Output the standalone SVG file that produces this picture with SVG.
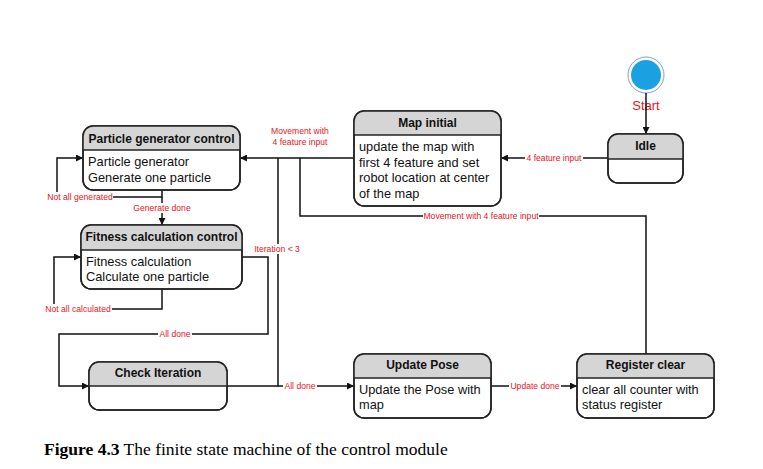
<svg xmlns="http://www.w3.org/2000/svg" width="763" height="469" viewBox="0 0 763 469">
<style>
.box{fill:#fff;stroke:#222;stroke-width:1.5}
.hdr{fill:#d5d5d5;stroke:none}
.div{stroke:#222;stroke-width:1.5}
.ttl{font-family:"Liberation Sans",Arial,sans-serif;font-weight:bold;font-size:12px;fill:#111;text-anchor:middle}
.bdy{font-family:"Liberation Sans",Arial,sans-serif;font-size:12.8px;fill:#111}
.lbl{font-family:"Liberation Sans",Arial,sans-serif;font-size:8.6px;fill:#e8141e;text-anchor:middle}
.ln{fill:none;stroke:#111;stroke-width:1.5}
.bg{fill:#fff}
</style>
<defs>
<marker id="arr" viewBox="0 0 10 10" refX="10" refY="5" markerWidth="7" markerHeight="7" markerUnits="userSpaceOnUse" orient="auto"><path d="M0,0 L10,5 L0,10 z" fill="#111"/></marker>
<clipPath id="c1"><rect x="83" y="126" width="157" height="64" rx="10"/></clipPath>
<clipPath id="c2"><rect x="81" y="225" width="161" height="64" rx="10"/></clipPath>
<clipPath id="c3"><rect x="89" y="362" width="138" height="48" rx="10"/></clipPath>
<clipPath id="c4"><rect x="354" y="354" width="137" height="64" rx="10"/></clipPath>
<clipPath id="c5"><rect x="577" y="354" width="137" height="64" rx="10"/></clipPath>
<clipPath id="c6"><rect x="354" y="111" width="147" height="95" rx="10"/></clipPath>
<clipPath id="c7"><rect x="608" y="134" width="75" height="49" rx="10"/></clipPath>
</defs>

<g id="start">
<circle cx="646" cy="75" r="18" fill="#fff" stroke="#7a9fd6" stroke-width="1"/>
<circle cx="646" cy="75" r="15" fill="#1ba1e2"/>
<text x="646" y="110" font-family="Liberation Sans, Arial, sans-serif" font-size="13" fill="#e8141e" text-anchor="middle">Start</text>
</g>

<g id="connectors">
<line class="ln" x1="646" y1="93" x2="646" y2="134" marker-end="url(#arr)"/>
<line class="ln" x1="608" y1="158" x2="501" y2="158" marker-end="url(#arr)"/>
<line class="ln" x1="354" y1="158" x2="240" y2="158" marker-end="url(#arr)"/>
<polyline class="ln" points="646,354 646,216 300,216 300,158"/>
<polyline class="ln" points="227,386 278,386 278,158"/>
<line class="ln" x1="278" y1="386" x2="354" y2="386" marker-end="url(#arr)"/>
<line class="ln" x1="491" y1="386" x2="577" y2="386" marker-end="url(#arr)"/>
<polyline class="ln" points="162,190 162,197 57,197 57,158 83,158" marker-end="url(#arr)"/>
<line class="ln" x1="162" y1="197" x2="162" y2="225" marker-end="url(#arr)"/>
<polyline class="ln" points="162,289 162,309 54,309 54,257 81,257" marker-end="url(#arr)"/>
<polyline class="ln" points="242,257 268,257 268,334 59,334 59,386 89,386" marker-end="url(#arr)"/>

<rect class="bg" x="47" y="192" width="66" height="10"/>
<text class="lbl" x="80" y="200">Not all generated</text>
<rect class="bg" x="133" y="203" width="58" height="10"/>
<text class="lbl" x="162" y="211">Generate done</text>
<rect class="bg" x="45" y="304" width="67" height="10"/>
<text class="lbl" x="78" y="312">Not all calculated</text>
<rect class="bg" x="158" y="329" width="34" height="10"/>
<text class="lbl" x="175" y="337">All done</text>
<rect class="bg" x="253" y="244" width="48" height="10"/>
<text class="lbl" x="277" y="252">Iteration &lt; 3</text>
<text class="lbl" x="300" y="134">Movement with</text>
<text class="lbl" x="300" y="145">4 feature input</text>
<rect class="bg" x="525" y="153" width="58" height="10"/>
<text class="lbl" x="554" y="161">4 feature input</text>
<rect class="bg" x="423" y="211" width="116" height="10"/>
<text class="lbl" x="481" y="219">Movement with 4 feature input</text>
<rect class="bg" x="283" y="381" width="34" height="10"/>
<text class="lbl" x="300" y="389">All done</text>
<rect class="bg" x="509" y="381" width="52" height="10"/>
<text class="lbl" x="535" y="389">Update done</text>
</g>

<g id="particle-generator-control">
<rect class="box" x="83" y="126" width="157" height="64" rx="10"/>
<rect class="hdr" x="83" y="126" width="157" height="24" clip-path="url(#c1)"/>
<line class="div" x1="83" y1="150" x2="240" y2="150"/>
<rect x="83" y="126" width="157" height="64" rx="10" fill="none" stroke="#222" stroke-width="1.5"/>
<text class="ttl" x="161.5" y="143">Particle generator control</text>
<text class="bdy" x="88" y="166">Particle generator</text>
<text class="bdy" x="88" y="182">Generate one particle</text>
</g>

<g id="fitness-calculation-control">
<rect class="box" x="81" y="225" width="161" height="64" rx="10"/>
<rect class="hdr" x="81" y="225" width="161" height="25" clip-path="url(#c2)"/>
<line class="div" x1="81" y1="250" x2="242" y2="250"/>
<rect x="81" y="225" width="161" height="64" rx="10" fill="none" stroke="#222" stroke-width="1.5"/>
<text class="ttl" x="161.5" y="241">Fitness calculation control</text>
<text class="bdy" x="86" y="266">Fitness calculation</text>
<text class="bdy" x="86" y="281">Calculate one particle</text>
</g>

<g id="check-iteration">
<rect class="box" x="89" y="362" width="138" height="48" rx="10"/>
<rect class="hdr" x="89" y="362" width="138" height="24" clip-path="url(#c3)"/>
<line class="div" x1="89" y1="386" x2="227" y2="386"/>
<rect x="89" y="362" width="138" height="48" rx="10" fill="none" stroke="#222" stroke-width="1.5"/>
<text class="ttl" x="158" y="377">Check Iteration</text>
</g>

<g id="update-pose">
<rect class="box" x="354" y="354" width="137" height="64" rx="10"/>
<rect class="hdr" x="354" y="354" width="137" height="24" clip-path="url(#c4)"/>
<line class="div" x1="354" y1="378" x2="491" y2="378"/>
<rect x="354" y="354" width="137" height="64" rx="10" fill="none" stroke="#222" stroke-width="1.5"/>
<text class="ttl" x="422.5" y="369">Update Pose</text>
<text class="bdy" x="359" y="394">Update the Pose with</text>
<text class="bdy" x="359" y="409">map</text>
</g>

<g id="register-clear">
<rect class="box" x="577" y="354" width="137" height="64" rx="10"/>
<rect class="hdr" x="577" y="354" width="137" height="24" clip-path="url(#c5)"/>
<line class="div" x1="577" y1="378" x2="714" y2="378"/>
<rect x="577" y="354" width="137" height="64" rx="10" fill="none" stroke="#222" stroke-width="1.5"/>
<text class="ttl" x="645.5" y="369">Register clear</text>
<text class="bdy" x="582" y="394">clear all counter with</text>
<text class="bdy" x="582" y="409">status register</text>
</g>

<g id="map-initial">
<rect class="box" x="354" y="111" width="147" height="95" rx="10"/>
<rect class="hdr" x="354" y="111" width="147" height="24" clip-path="url(#c6)"/>
<line class="div" x1="354" y1="135" x2="501" y2="135"/>
<rect x="354" y="111" width="147" height="95" rx="10" fill="none" stroke="#222" stroke-width="1.5"/>
<text class="ttl" x="427.5" y="127">Map initial</text>
<text class="bdy" x="359" y="151">update the map with</text>
<text class="bdy" x="359" y="167">first 4 feature and set</text>
<text class="bdy" x="359" y="182">robot location at center</text>
<text class="bdy" x="359" y="198">of the map</text>
</g>

<g id="idle">
<rect class="box" x="608" y="134" width="75" height="49" rx="10"/>
<rect class="hdr" x="608" y="134" width="75" height="25" clip-path="url(#c7)"/>
<line class="div" x1="608" y1="159" x2="683" y2="159"/>
<rect x="608" y="134" width="75" height="49" rx="10" fill="none" stroke="#222" stroke-width="1.5"/>
<text class="ttl" x="645.5" y="150">Idle</text>
</g>

<text x="44" y="455" font-family="Liberation Serif, 'Times New Roman', serif" font-size="17.5" fill="#000"><tspan font-weight="bold">Figure 4.3</tspan> The finite state machine of the control module</text>
</svg>
